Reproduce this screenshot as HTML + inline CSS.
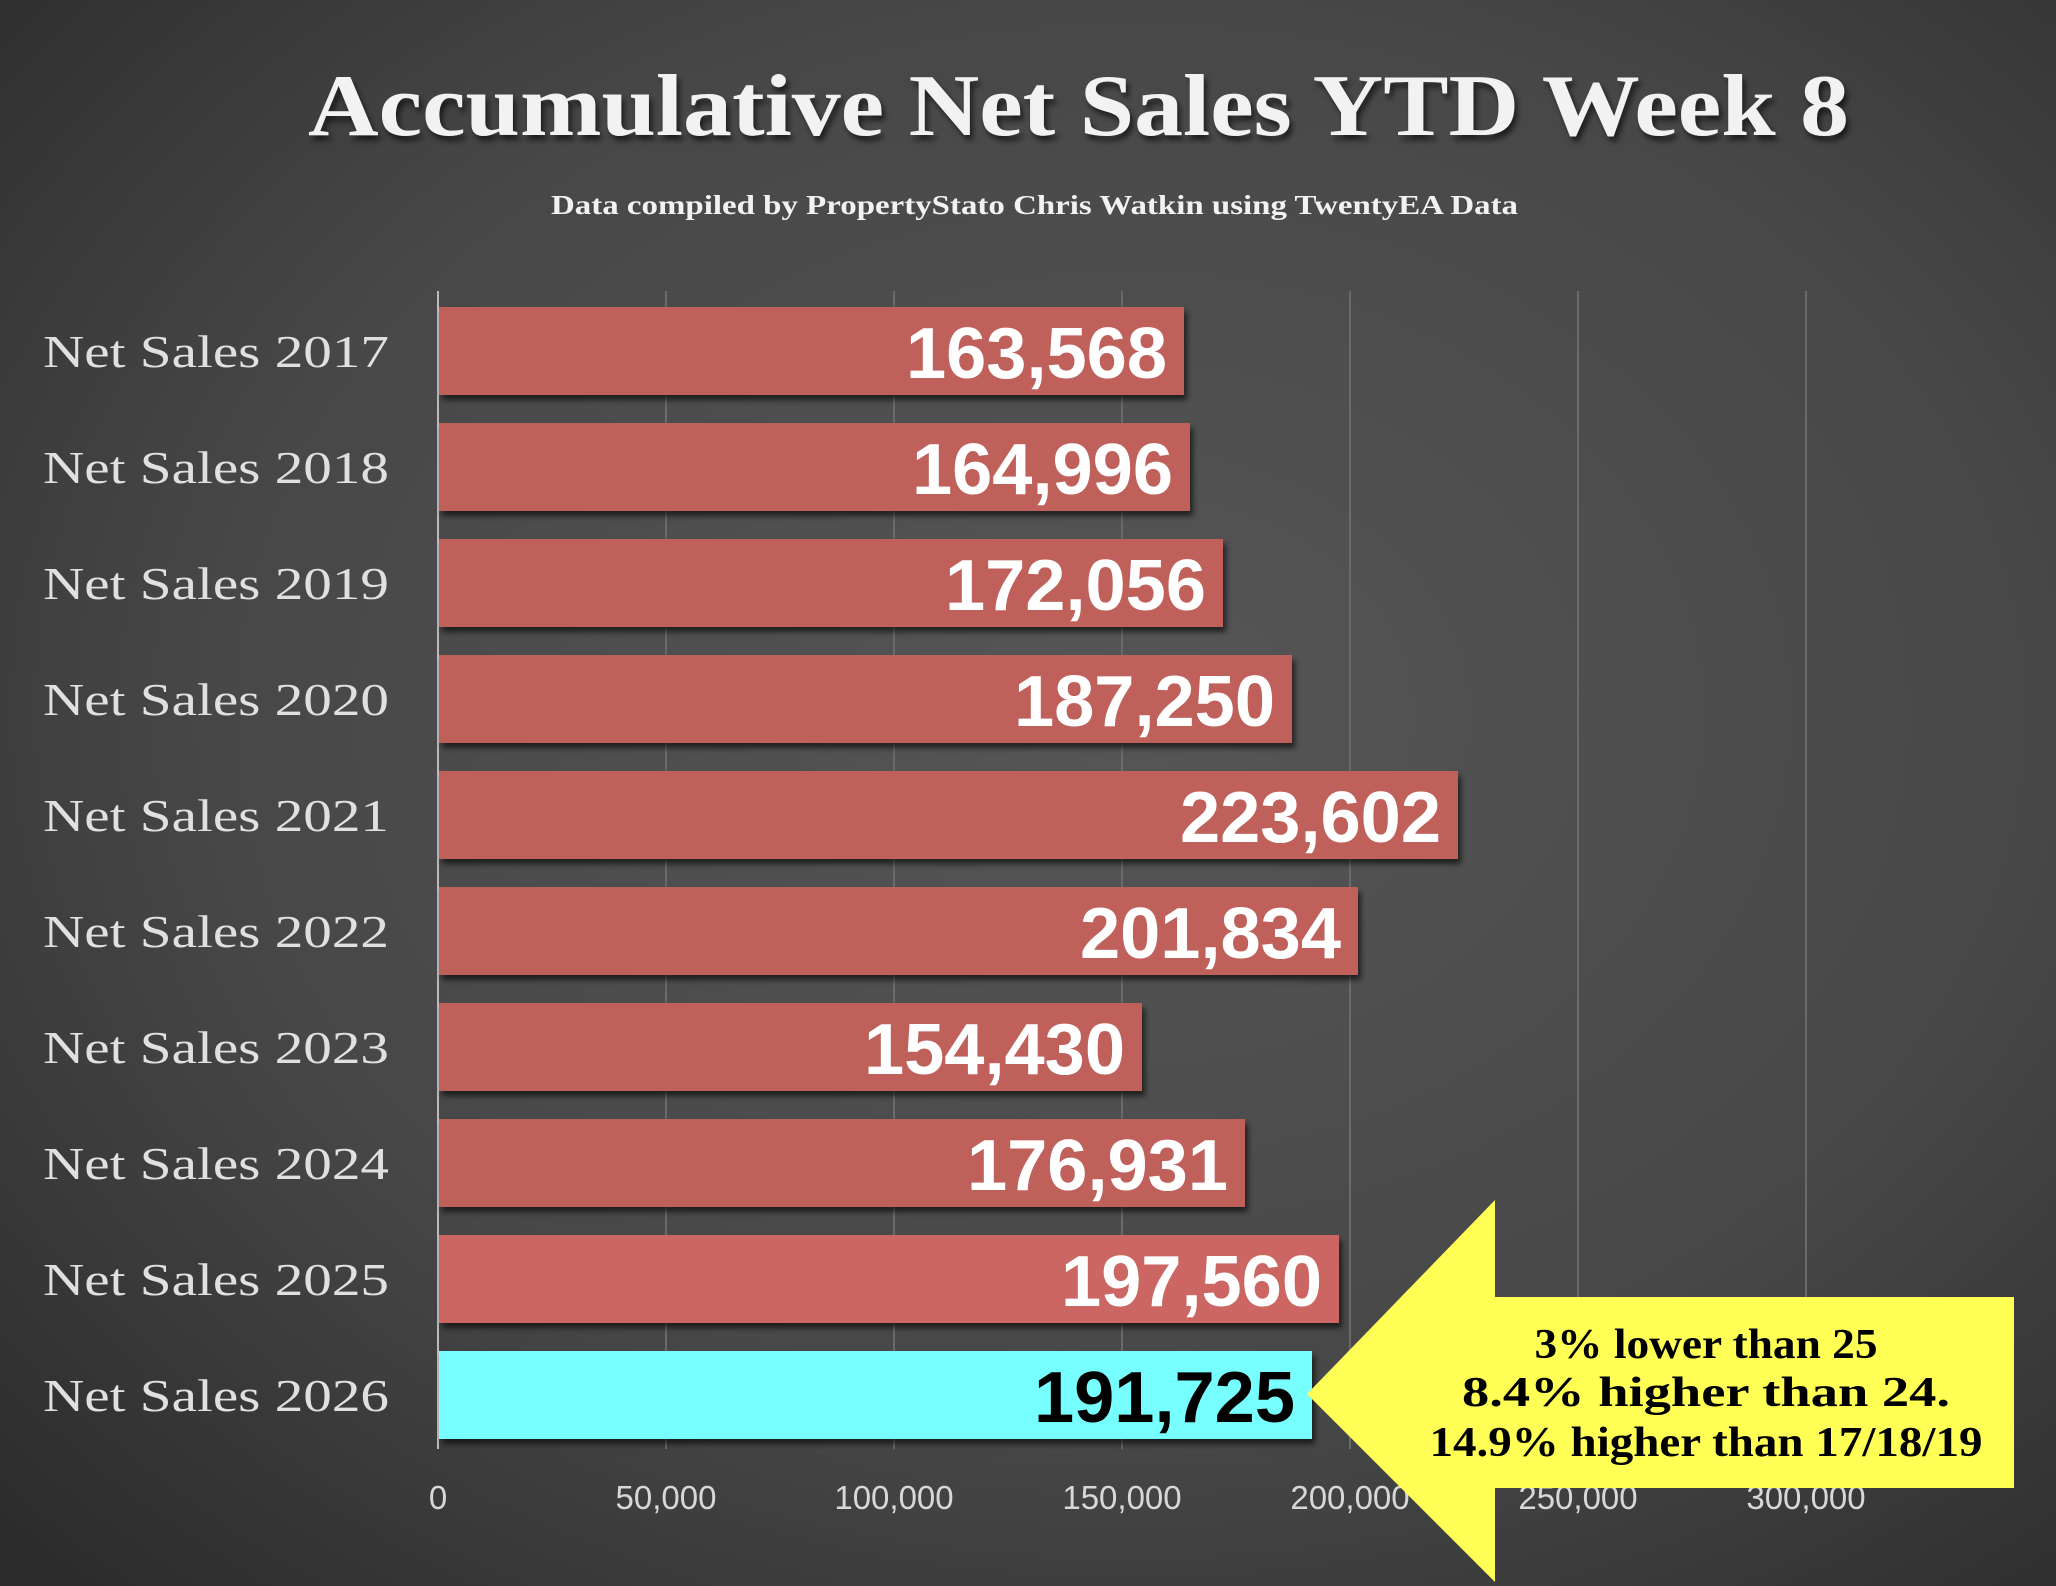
<!DOCTYPE html>
<html><head><meta charset="utf-8"><style>html,body{margin:0;padding:0;width:2056px;height:1586px;overflow:hidden;background:#3a3a3a}</style></head>
<body>
<svg width="2056" height="1586" viewBox="0 0 2056 1586" xmlns="http://www.w3.org/2000/svg">
<defs>
<radialGradient id="bg" cx="0.55" cy="0.45" r="0.75">
<stop offset="0" stop-color="#565656"/><stop offset="0.6" stop-color="#474747"/><stop offset="1" stop-color="#2c2c2c"/>
</radialGradient>
<filter id="sh" x="-5%" y="-10%" width="110%" height="140%"><feDropShadow dx="3" dy="5" stdDeviation="3" flood-color="#000" flood-opacity="0.6"/></filter>
</defs>
<rect width="2056" height="1586" fill="url(#bg)"/>
<g font-family="Liberation Serif, serif" font-weight="bold" fill="#f2f2f2">
<text x="308" y="135" font-size="88" textLength="1541" lengthAdjust="spacingAndGlyphs" filter="url(#sh)">Accumulative Net Sales YTD Week 8</text>
<text x="551" y="214" font-size="27" textLength="967" lengthAdjust="spacingAndGlyphs">Data compiled by PropertyStato Chris Watkin using TwentyEA Data</text>
</g>
<g stroke="#6a6a6a" stroke-width="2">
<line x1="666" y1="291" x2="666" y2="1449"/><line x1="894" y1="291" x2="894" y2="1449"/><line x1="1122" y1="291" x2="1122" y2="1449"/><line x1="1350" y1="291" x2="1350" y2="1449"/><line x1="1578" y1="291" x2="1578" y2="1449"/><line x1="1806" y1="291" x2="1806" y2="1449"/>
</g>
<line x1="438" y1="291" x2="438" y2="1449" stroke="#bbb" stroke-width="2"/>
<g font-family="Liberation Sans, sans-serif" font-size="33" fill="#d8d8d8" text-anchor="middle">
<text x="438" y="1509">0</text><text x="666" y="1509">50,000</text><text x="894" y="1509">100,000</text><text x="1122" y="1509">150,000</text><text x="1350" y="1509">200,000</text><text x="1578" y="1509">250,000</text><text x="1806" y="1509">300,000</text>
</g>
<g filter="url(#sh)">
<rect x="439" y="307" width="745" height="88" fill="#bf605a"/>
<rect x="439" y="423" width="751" height="88" fill="#bf605a"/>
<rect x="439" y="539" width="784" height="88" fill="#bf605a"/>
<rect x="439" y="655" width="853" height="88" fill="#bf605a"/>
<rect x="439" y="771" width="1019" height="88" fill="#bf605a"/>
<rect x="439" y="887" width="919" height="88" fill="#bf605a"/>
<rect x="439" y="1003" width="703" height="88" fill="#bf605a"/>
<rect x="439" y="1119" width="806" height="88" fill="#bf605a"/>
<rect x="439" y="1235" width="900" height="88" fill="#cc6662"/>
<rect x="439" y="1351" width="873" height="88" fill="#77ffff"/>
</g>
<g font-family="Liberation Serif, serif" font-size="46" fill="#e0e0e0">
<text x="43" y="367" textLength="346" lengthAdjust="spacingAndGlyphs">Net Sales 2017</text>
<text x="43" y="483" textLength="346" lengthAdjust="spacingAndGlyphs">Net Sales 2018</text>
<text x="43" y="599" textLength="346" lengthAdjust="spacingAndGlyphs">Net Sales 2019</text>
<text x="43" y="715" textLength="346" lengthAdjust="spacingAndGlyphs">Net Sales 2020</text>
<text x="43" y="831" textLength="346" lengthAdjust="spacingAndGlyphs">Net Sales 2021</text>
<text x="43" y="947" textLength="346" lengthAdjust="spacingAndGlyphs">Net Sales 2022</text>
<text x="43" y="1063" textLength="346" lengthAdjust="spacingAndGlyphs">Net Sales 2023</text>
<text x="43" y="1179" textLength="346" lengthAdjust="spacingAndGlyphs">Net Sales 2024</text>
<text x="43" y="1295" textLength="346" lengthAdjust="spacingAndGlyphs">Net Sales 2025</text>
<text x="43" y="1411" textLength="346" lengthAdjust="spacingAndGlyphs">Net Sales 2026</text>
</g>
<g font-family="Liberation Sans, sans-serif" font-weight="bold" font-size="72" fill="#fff">
<text x="906" y="378" textLength="261" lengthAdjust="spacingAndGlyphs">163,568</text>
<text x="912" y="494" textLength="261" lengthAdjust="spacingAndGlyphs">164,996</text>
<text x="945" y="610" textLength="261" lengthAdjust="spacingAndGlyphs">172,056</text>
<text x="1014" y="726" textLength="261" lengthAdjust="spacingAndGlyphs">187,250</text>
<text x="1180" y="842" textLength="261" lengthAdjust="spacingAndGlyphs">223,602</text>
<text x="1080" y="958" textLength="261" lengthAdjust="spacingAndGlyphs">201,834</text>
<text x="864" y="1074" textLength="261" lengthAdjust="spacingAndGlyphs">154,430</text>
<text x="967" y="1190" textLength="261" lengthAdjust="spacingAndGlyphs">176,931</text>
<text x="1061" y="1306" textLength="261" lengthAdjust="spacingAndGlyphs">197,560</text>
<text x="1034" y="1422" textLength="261" lengthAdjust="spacingAndGlyphs" fill="#000">191,725</text>
</g>
<polygon points="1307,1394 1495,1200 1495,1297 2014,1297 2014,1488 1495,1488 1495,1582" fill="#ffff55"/>
<g font-family="Liberation Serif, serif" font-weight="bold" font-size="42" fill="#000" text-anchor="middle">
<text x="1706" y="1358" textLength="343" lengthAdjust="spacingAndGlyphs">3% lower than 25</text>
<text x="1706" y="1406" textLength="488" lengthAdjust="spacingAndGlyphs">8.4% higher than 24.</text>
<text x="1706" y="1456" textLength="553" lengthAdjust="spacingAndGlyphs">14.9% higher than 17/18/19</text>
</g>
</svg>
</body></html>
